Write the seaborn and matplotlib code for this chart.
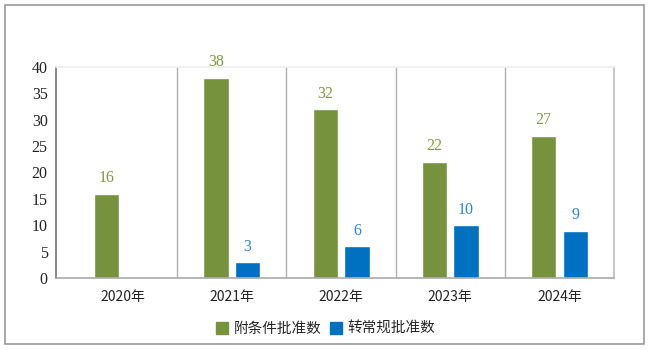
import matplotlib
matplotlib.use("Agg")
import matplotlib.pyplot as plt
import seaborn as sns
import pandas as pd
from matplotlib.patches import Rectangle

years = ["2020年", "2021年", "2022年", "2023年", "2024年"]
conditional = [16, 38, 32, 22, 27]
regular = [0, 3, 6, 10, 9]
series_names = ["附条件批准数", "转常规批准数"]

green = "#76923c"
blue = "#0070c0"
green_txt = "#7f9a3e"
blue_txt = "#2a86d0"

df = pd.DataFrame({
    "year": years * 2,
    "count": conditional + regular,
    "series": [series_names[0]] * 5 + [series_names[1]] * 5,
})

sns.set_theme(style="white")
plt.rcParams['font.family'] = ['Noto Sans CJK SC', 'DejaVu Sans']

fig = plt.figure(figsize=(6.51, 3.51), dpi=100)
ax = fig.add_axes([56 / 651, 1 - 278 / 351, 558 / 651, 211 / 351])

sns.barplot(data=df, x="year", y="count", hue="series", order=years,
            palette=[green, blue], width=0.58, gap=0.2, ax=ax,
            saturation=1, legend=False)

ax.set_ylim(0, 40)
ax.set_xlim(-0.61, 4.5)
ax.set_yticks(range(0, 41, 5))
ax.set_xlabel("")
ax.set_ylabel("")

serif = "Liberation Serif"
for lab in ax.get_yticklabels():
    lab.set_fontfamily(serif)
    lab.set_fontsize(11.5)
ax.tick_params(axis="y", length=4, width=0.8, color="#555555", pad=2, colors="#222222")
ax.tick_params(axis="x", length=0, labelsize=10, pad=9, colors="#222222")

for b in [0.5, 1.5, 2.5, 3.5]:
    ax.axvline(b, color="#b0b0b0", lw=1, zorder=0)

ax.spines["top"].set_color("#f0f0f0")
ax.spines["left"].set_color("#777777")
ax.spines["bottom"].set_color("#aaaaaa")
ax.spines["right"].set_color("#c8c8c8")
ax.spines["right"].set_linewidth(1.5)
ax.spines["bottom"].set_linewidth(1.2)

for container, col in zip(ax.containers, [green_txt, blue_txt]):
    for bar in container:
        h = bar.get_height()
        if h > 0:
            ax.annotate(f"{int(h)}", (bar.get_x() + bar.get_width() / 2, h),
                        xytext=(0, 5.5), textcoords="offset points",
                        ha="center", va="bottom", color=col,
                        fontsize=11.5, family=serif, annotation_clip=False)

handles = [Rectangle((0, 0), 1, 1, color=green), Rectangle((0, 0), 1, 1, color=blue)]
fig.legend(handles, series_names, loc="center", bbox_to_anchor=(0.5, 1 - 329 / 351),
           ncol=2, frameon=False, fontsize=10.5, handlelength=0.8, handleheight=0.8,
           handletextpad=0.4, columnspacing=0.6)

fig.patches.append(Rectangle((5 / 651, 1 - 344 / 351), 639 / 651, 339 / 351,
                             transform=fig.transFigure, fill=False,
                             edgecolor="#999999", lw=1.2))

fig.savefig("out.png", dpi=100)
